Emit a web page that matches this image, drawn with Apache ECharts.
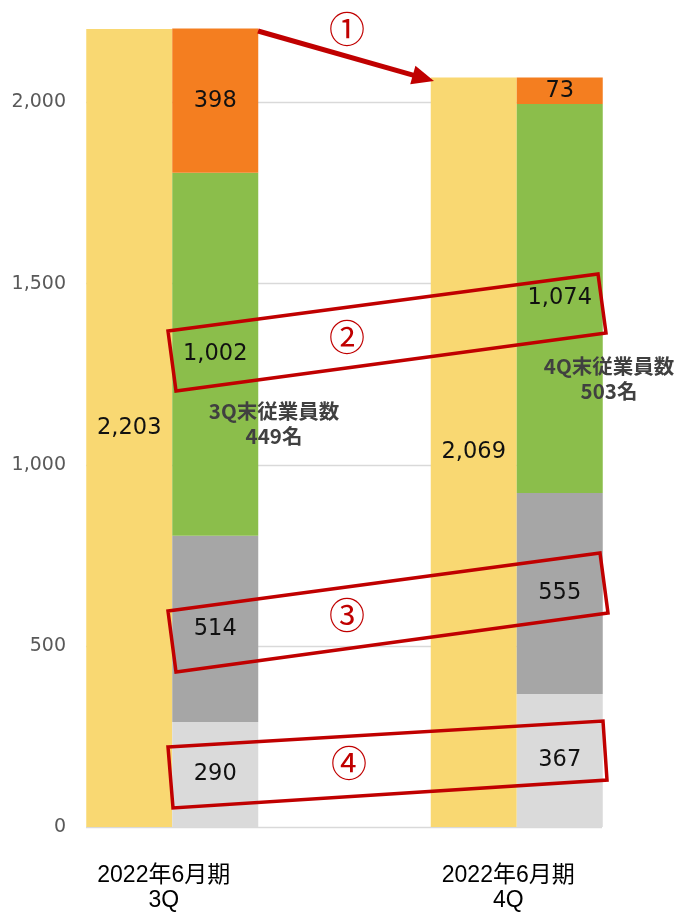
<!DOCTYPE html>
<html>
<head>
<meta charset="utf-8">
<script src="https://cdn.jsdelivr.net/npm/echarts@6/dist/echarts.min.js"></script>
<style>
html,body{margin:0;padding:0;background:#fff;}
#chart{width:681px;height:914px;}
</style>
</head>
<body>
<div id="chart"></div>
<script>
// ---- data ----
const categories = ['2022年6月期\n3Q', '2022年6月期\n4Q'];
const totalLabel = [2203, 2069];          // yellow bar
const segLight  = [290, 367];             // light grey
const segGrey   = [514, 555];             // dark grey
const segGreen  = [1002, 1074];           // green
const segOrange = [398, 73];              // orange
const yTicks = [0, 500, 1000, 1500, 2000];
const noteTexts = ['3Q末従業員数\n449名', '4Q末従業員数\n503名'];
const circled = ['①', '②', '③', '④'];

const fmt = v => Number(v).toLocaleString('en-US');
const chart = echarts.init(document.getElementById('chart'));

const labelFont = { show: true, position: 'inside', color: '#111', fontSize: 22.5, fontFamily: 'DejaVu Sans', formatter: p => fmt(p.value) };

function barSeries(name, data, color, stack) {
  const s = {
    name, type: 'bar', data, xAxisIndex: 0, yAxisIndex: 0,
    barWidth: 86, barGap: '0%', clip: false,
    itemStyle: { color },
    label: labelFont,
    emphasis: { disabled: true }
  };
  if (stack) s.stack = stack;
  return s;
}

// annotation geometry (pixels)
const RED = '#C00000';
const boxes = [
  [[168,331],[598,274],[606,333],[176,391]],
  [[168,611],[600,553],[608,613],[176,672]],
  [[168,747],[603,721],[607,780],[173,808]]
];
const circPos = [[347,29],[347,337],[347,615],[349,763]];
const notePos = [[274,424],[609,379]];

function arrow(x1, y1, x2, y2) {
  const dx = x2 - x1, dy = y2 - y1, L = Math.hypot(dx, dy);
  const ux = dx / L, uy = dy / L, nx = -uy, ny = ux;
  const hl = 22, hw = 9.5;
  const bx = x2 - ux * hl, by = y2 - uy * hl;
  return [
    { type: 'line', z: 100, shape: { x1, y1, x2: bx + ux * 2, y2: by + uy * 2 }, style: { stroke: RED, lineWidth: 5 } },
    { type: 'polygon', z: 100, shape: { points: [[x2, y2], [bx + nx * hw, by + ny * hw], [bx - nx * hw, by - ny * hw]] }, style: { fill: RED } }
  ];
}

const graphics = [];
boxes.forEach(pts => graphics.push({ type: 'polygon', z: 100, shape: { points: pts }, style: { fill: 'none', stroke: RED, lineWidth: 3.5 } }));
graphics.push(...arrow(258, 31, 434, 81));
circled.forEach((c, i) => graphics.push({
  type: 'text', z: 101, x: circPos[i][0], y: circPos[i][1],
  style: { text: c, fill: RED, fontSize: 36, fontFamily: 'Noto Sans CJK JP', align: 'center', verticalAlign: 'middle' }
}));
noteTexts.forEach((t, i) => graphics.push({
  type: 'text', z: 101, x: notePos[i][0], y: notePos[i][1],
  style: { text: t, fill: '#404040', fontSize: 20.5, fontWeight: 'bold', fontFamily: 'Noto Sans CJK JP', align: 'center', verticalAlign: 'middle', lineHeight: 25 }
}));

const option = {
  animation: false,
  backgroundColor: '#fff',
  grid: [
    { left: 0, width: 689, top: 102.5, bottom: 87, outerBoundsMode: 'none', containLabel: false },
    { left: 86, right: 79, top: 102.5, bottom: 87, outerBoundsMode: 'none', containLabel: false }
  ],
  xAxis: [
    { type: 'category', gridIndex: 0, data: categories,
      axisLine: { show: false }, axisTick: { show: false },
      axisLabel: { color: '#000', fontSize: 23, lineHeight: 25, fontFamily: 'Liberation Sans, Noto Sans CJK JP', margin: 36, padding: [0, 17, 0, 0] } },
    { type: 'value', gridIndex: 1, show: false, min: 0, max: 1 }
  ],
  yAxis: [
    { type: 'value', gridIndex: 0, min: 0, max: 2000, interval: 500, show: false },
    { type: 'value', gridIndex: 1, min: yTicks[0], max: yTicks[yTicks.length - 1], interval: 500,
      axisLine: { show: false }, axisTick: { show: false },
      splitLine: { show: true, lineStyle: { color: '#D9D9D9', width: 1.3 } },
      axisLabel: { color: '#595959', fontSize: 19, fontFamily: 'DejaVu Sans', margin: 20, formatter: v => fmt(v) } }
  ],
  series: [
    barSeries('total', totalLabel, '#F9D872'),
    barSeries('light', segLight, '#DADADA', 'emp'),
    barSeries('grey', segGrey, '#A6A6A6', 'emp'),
    barSeries('green', segGreen, '#8BBE4B', 'emp'),
    barSeries('orange', segOrange, '#F47E20', 'emp')
  ],
  graphic: graphics
};
chart.setOption(option);
</script>
</body>
</html>
